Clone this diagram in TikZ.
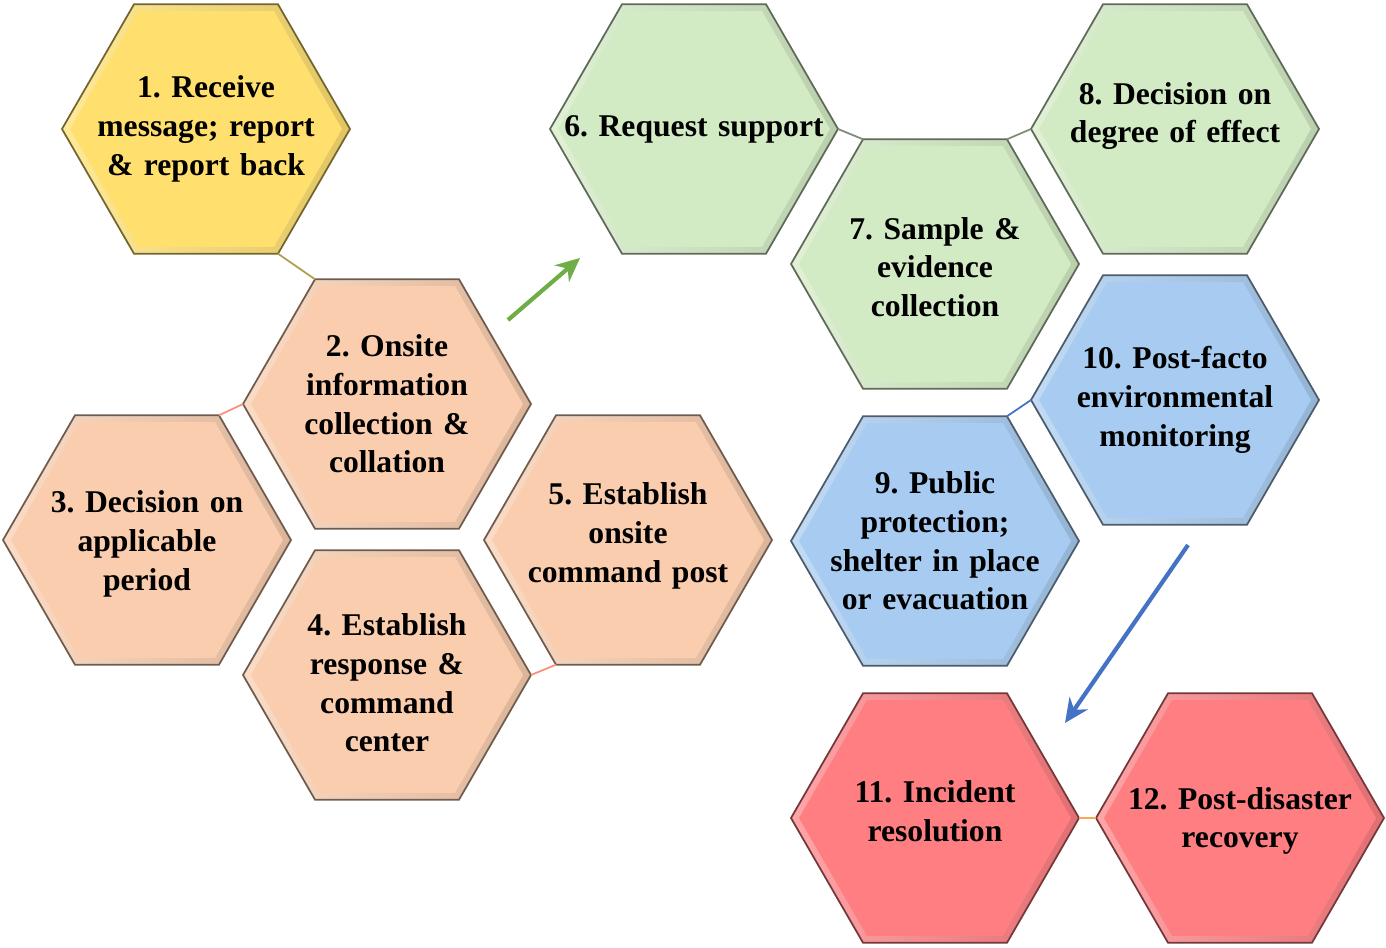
\documentclass[tikz,border=0pt]{standalone}
\usepackage{fontspec}
\setmainfont{Liberation Serif}
\usetikzlibrary{shapes.geometric,arrows.meta}

\definecolor{hexyellow}{HTML}{FFE06E}
\definecolor{hexpeach}{HTML}{F9CDAE}
\definecolor{hexgreen}{HTML}{D3EBC4}
\definecolor{hexblue}{HTML}{A8CCF1}
\definecolor{hexred}{HTML}{FF7E82}
\definecolor{arrowgreen}{HTML}{70AD47}
\definecolor{arrowblue}{HTML}{4472C4}

\begin{document}
\frenchspacing
\begin{tikzpicture}[>={Stealth[length=2.4mm,width=2.2mm]},
   hexbox/.style={regular polygon, regular polygon sides=6, minimum size=2.88cm,
     inner sep=0pt, outer sep=0pt, draw=#1!45!black, line width=0.5pt,
     left color=#1!70!white, right color=#1!88!black,
     path picture={\fill[#1] (path picture bounding box.center) ++(0:1.36)
       -- ++(120:1.36) -- ++(180:1.36) -- ++(240:1.36) -- ++(300:1.36)
       -- ++(0:1.36) -- cycle;}},
   hextext/.style={align=center, text width=2.7cm, inner sep=0pt,
     font=\bfseries\fontsize{9}{11}\selectfont},
   link/.style={line width=0.5pt, #1}]
  \useasboundingbox (0,0) rectangle (13.86,-9.48);

  % hexagons
  \node[hexbox=hexyellow] (h1) at (2.06,-1.29) {};
  \node[hexbox=hexpeach] (h2) at (3.87,-4.04) {};
  \node[hexbox=hexpeach] (h3) at (1.47,-5.40) {};
  \node[hexbox=hexpeach] (h4) at (3.87,-6.75) {};
  \node[hexbox=hexpeach] (h5) at (6.28,-5.40) {};
  \node[hexbox=hexgreen] (h6) at (6.94,-1.29) {};
  \node[hexbox=hexgreen] (h7) at (9.35,-2.64) {};
  \node[hexbox=hexgreen] (h8) at (11.75,-1.29) {};
  \node[hexbox=hexblue] (h9) at (9.35,-5.41) {};
  \node[hexbox=hexblue] (h10) at (11.75,-4.00) {};
  \node[hexbox=hexred] (h11) at (9.35,-8.18) {};
  \node[hexbox=hexred] (h12) at (12.40,-8.18) {};

  % labels
  \node[hextext] (t1) at (h1) {1. Receive\\ message; report\\ \& report back};
  \node[hextext] (t2) at (h2) {2. Onsite\\ information\\ collection \&\\ collation};
  \node[hextext] (t3) at ([yshift=-0.04cm]h3.center) {3. Decision on\\ applicable\\ period};
  \node[hextext] (t4) at ([yshift=-0.08cm]h4.center) {4. Establish\\ response \&\\ command\\ center};
  \node[hextext] (t5) at ([yshift=0.04cm]h5.center) {5. Establish\\ onsite\\ command post};
  \node[hextext] (t6) at (h6) {6. Request support};
  \node[hextext] (t7) at ([yshift=-0.03cm]h7.center) {7. Sample \&\\ evidence\\ collection};
  \node[hextext] (t8) at ([yshift=0.13cm]h8.center) {8. Decision on\\ degree of effect};
  \node[hextext] (t9) at (h9) {9. Public\\ protection;\\ shelter in place\\ or evacuation};
  \node[hextext] (t10) at (h10) {10. Post-facto\\ environmental\\ monitoring};
  \node[hextext] (t11) at ([yshift=0.07cm]h11.center) {11. Incident\\ resolution};
  \node[hextext] (t12) at ([yshift=-0.03cm]h12.center) {12. Post-disaster\\ recovery};

  % thin links between hexagons
  \draw[link=hexyellow!70!black] (h1.-60) -- (h2.120);
  \draw[link=hexpeach!70!red] (h3.60) -- (h2.180);
  \draw[link=hexpeach!70!red] (h4.0) -- (h5.240);
  \draw[link=hexgreen!60!black] (h6.0) -- (h7.120);
  \draw[link=hexgreen!60!black] (h7.60) -- (h8.180);
  \draw[link=arrowblue] (h9.60) -- (h10.180);
  \draw[link=hexpeach!50!orange] (h11.0) -- (h12.180);

  % arrows between groups
  \coordinate (g1) at (5.08,-3.20);
  \coordinate (g2) at (5.80,-2.58);
  \coordinate (b1) at (11.88,-5.45);
  \coordinate (b2) at (10.65,-7.23);
  \draw[->, arrowgreen, line width=1.2pt] (g1) -- (g2);
  \draw[->, arrowblue, line width=1.2pt] (b1) -- (b2);
\end{tikzpicture}
\end{document}
